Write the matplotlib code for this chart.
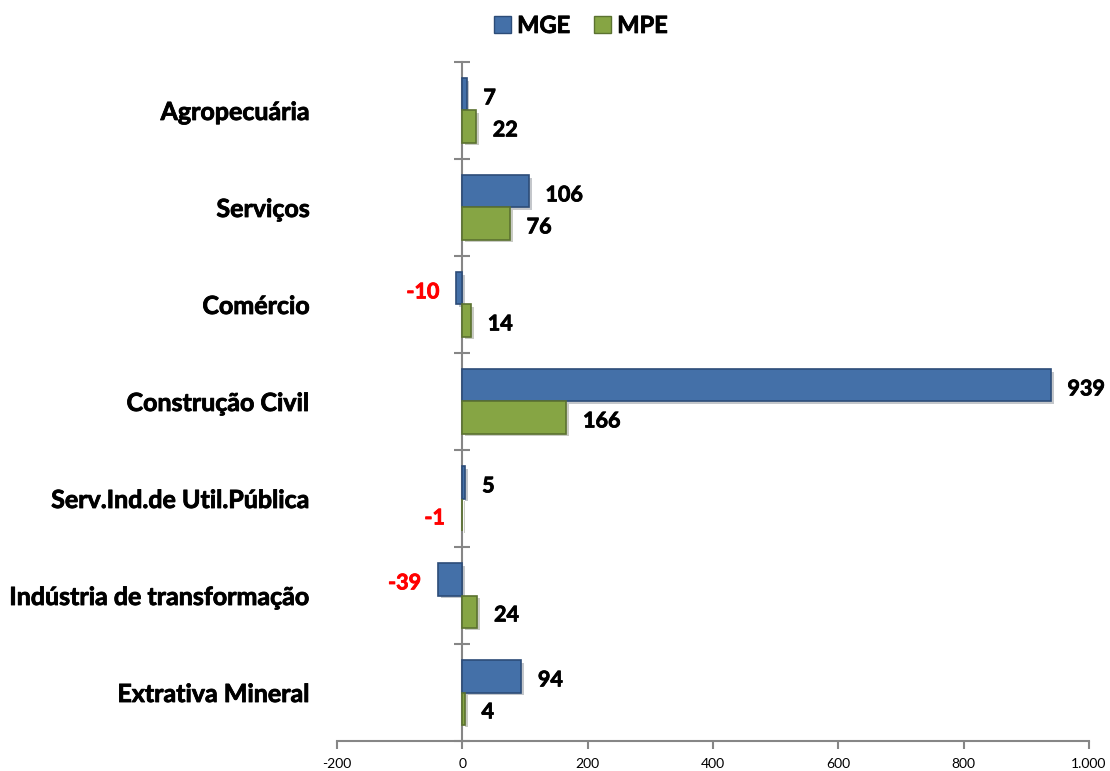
import matplotlib.pyplot as plt
import matplotlib.patheffects as pe
from matplotlib.transforms import blended_transform_factory
from matplotlib.patches import Patch

plt.rcParams['font.family'] = ['Lato', 'DejaVu Sans']

# dados
setores = ['Agropecuária', 'Serviços', 'Comércio', 'Construção Civil',
           'Serv.Ind.de Util.Pública', 'Indústria de transformação', 'Extrativa Mineral']
mge = [7, 106, -10, 939, 5, -39, 94]
mpe = [22, 76, 14, 166, -1, 24, 4]
xticks = [-200, 0, 200, 400, 600, 800, 1000]
xlabels = ['-200', '0', '200', '400', '600', '800', '1.000']

azul = '#4470A8'
azul_borda = '#2C4C78'
verde = '#86A544'
verde_borda = '#5B7230'

fig = plt.figure(figsize=(11.1, 7.71), dpi=100)
ax = fig.add_axes([0.3036, 0.0389, 0.6775, 0.8807])

n = len(setores)
pos = [n - 1 - i + 0.5 for i in range(n)]  # top category first
h = 0.33
sombra = [pe.SimplePatchShadow(offset=(2, -2), alpha=0.25), pe.Normal()]

b1 = ax.barh([p + h / 2 for p in pos], mge, height=h, color=azul,
             edgecolor=azul_borda, linewidth=1.2, zorder=3)
b2 = ax.barh([p - h / 2 for p in pos], mpe, height=h, color=verde,
             edgecolor=verde_borda, linewidth=1.2, zorder=3)
for b in list(b1) + list(b2):
    b.set_path_effects(sombra)

# rotulos dos valores
negrito = [pe.withStroke(linewidth=0.6, foreground='black')]
for vals, off in ((mge, h / 2), (mpe, -h / 2)):
    for p, v in zip(pos, vals):
        if v >= 0:
            ax.annotate(str(v), (v, p + off), xytext=(12, -1), textcoords='offset points',
                        ha='left', va='center_baseline', fontsize=15.5, fontweight='bold',
                        color='black', path_effects=negrito)
        else:
            ax.annotate(str(v), (v, p + off), xytext=(-12, -1), textcoords='offset points',
                        ha='right', va='center_baseline', fontsize=15.5, fontweight='bold',
                        color='red', path_effects=[pe.withStroke(linewidth=0.6, foreground='red')])

# nomes das categorias
tr = blended_transform_factory(ax.transAxes, ax.transData)
for p, s in zip(pos, setores):
    ax.text(-0.036, p, s, transform=tr, ha='right', va='center_baseline',
            fontsize=18, fontweight='bold', path_effects=negrito)

ax.set_xlim(-200, 1000)
ax.set_ylim(0, n)
ax.set_xticks(xticks)
ax.set_xticklabels(xlabels, fontsize=10)

for s in ('top', 'right'):
    ax.spines[s].set_visible(False)
ax.spines['left'].set_position(('data', 0))
ax.spines['left'].set_color('#868686')
ax.spines['left'].set_linewidth(1.5)
ax.spines['bottom'].set_color('#868686')
ax.spines['bottom'].set_linewidth(1.5)
ax.spines['left'].set_zorder(2)
ax.set_yticks(range(n + 1))
ax.set_yticklabels([])
ax.tick_params(axis='y', direction='inout', length=12, width=1.5, color='#868686')
ax.tick_params(axis='x', direction='out', length=6, width=1.5, color='#868686', pad=6)

handles = [Patch(facecolor=azul, edgecolor=azul_borda), Patch(facecolor=verde, edgecolor=verde_borda)]
leg = fig.legend(handles, ['MGE', 'MPE'], loc='center', bbox_to_anchor=(0.523, 0.967), ncol=2,
                 frameon=False, prop={'weight': 'bold', 'size': 17}, handlelength=0.75,
                 handleheight=0.75, handletextpad=0.25, columnspacing=1.0)
for t in leg.get_texts():
    t.set_path_effects(negrito)

fig.savefig('out.png', dpi=100)
